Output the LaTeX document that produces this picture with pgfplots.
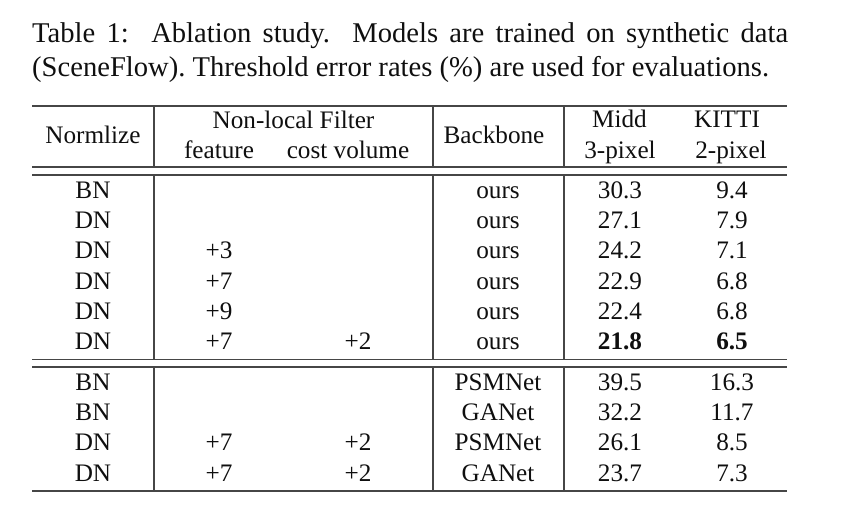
\documentclass[border=0pt]{standalone}
\usepackage{fontspec}
\setmainfont{Liberation Serif}
\usepackage{pgfplots}
\pgfplotsset{compat=1.18}
\definecolor{ink}{RGB}{15,15,15}
\definecolor{rule}{RGB}{70,70,70}
\newcommand{\capfont}{\fontsize{28.6}{34}\selectfont}
\newcommand{\tabfont}{\fontsize{25.2}{30}\selectfont}

\begin{document}
\begin{tikzpicture}
\begin{axis}[scale only axis, width=857pt, height=514pt,
  xmin=0, xmax=857, ymin=0, ymax=514, y dir=reverse,
  hide axis, clip=false,
  cell/.style={draw=none, mark=none, nodes near coords, point meta=explicit symbolic,
    nodes near coords style={anchor=base, inner sep=0pt, text=ink, font=\tabfont}}]

  % caption
  \node[anchor=base west, inner sep=0pt, text=ink, font=\capfont] at (axis cs:32,43)
    {\makebox[756pt][s]{Table 1:\ \ Ablation study.\ \ Models are trained on synthetic data}};
  \node[anchor=base west, inner sep=0pt, text=ink, font=\capfont] at (axis cs:32,77)
    {\frenchspacing (SceneFlow). Threshold error rates (\%) are used for evaluations.};

  % rules
  \draw[rule, line width=1.8pt] (axis cs:32,106) -- (axis cs:787,106);
  \draw[rule, line width=1.6pt] (axis cs:32,167) -- (axis cs:787,167);
  \draw[rule, line width=1.6pt] (axis cs:32,175) -- (axis cs:787,175);
  \draw[rule, line width=1.6pt] (axis cs:32,359.5) -- (axis cs:787,359.5);
  \draw[rule, line width=1.6pt] (axis cs:32,367) -- (axis cs:787,367);
  \draw[rule, line width=1.8pt] (axis cs:32,491) -- (axis cs:787,491);
  % vertical rules
  \draw[rule, line width=1.3pt] (axis cs:154,106) -- (axis cs:154,167);
  \draw[rule, line width=1.3pt] (axis cs:154,175) -- (axis cs:154,359.5);
  \draw[rule, line width=1.3pt] (axis cs:154,367) -- (axis cs:154,491);
  \draw[rule, line width=1.3pt] (axis cs:433,106) -- (axis cs:433,167);
  \draw[rule, line width=1.3pt] (axis cs:433,175) -- (axis cs:433,359.5);
  \draw[rule, line width=1.3pt] (axis cs:433,367) -- (axis cs:433,491);
  \draw[rule, line width=1.3pt] (axis cs:564,106) -- (axis cs:564,167);
  \draw[rule, line width=1.3pt] (axis cs:564,175) -- (axis cs:564,359.5);
  \draw[rule, line width=1.3pt] (axis cs:564,367) -- (axis cs:564,491);

  % header
  \addplot[cell] coordinates {
    (93,143.5) [Normlize]
    (293.5,128.3) [Non-local Filter]
    (219,158) [feature]
    (348,158) [cost volume]
    (494,143.5) [Backbone]
    (619.5,127.5) [Midd]
    (620,158) [3-pixel]
    (727,127.5) [KITTI]
    (731,158) [2-pixel]
  };

  % column: normalize
  \addplot[cell] coordinates {
    (93,198.3) [BN] (93,228.6) [DN] (93,258.9) [DN] (93,289.2) [DN] (93,319.5) [DN] (93,349.8) [DN]
    (93,390) [BN] (93,420.3) [BN] (93,450.6) [DN] (93,481) [DN]
  };
  % column: non-local filter, feature
  \addplot[cell] coordinates {
    (219,258.9) [+3] (219,289.2) [+7] (219,319.5) [+9] (219,349.8) [+7]
    (219,450.6) [+7] (219,481) [+7]
  };
  % column: non-local filter, cost volume
  \addplot[cell] coordinates {
    (358,349.8) [+2] (358,450.6) [+2] (358,481) [+2]
  };
  % column: backbone
  \addplot[cell] coordinates {
    (498,198.3) [ours] (498,228.6) [ours] (498,258.9) [ours] (498,289.2) [ours] (498,319.5) [ours] (498,349.8) [ours]
    (498,390) [PSMNet] (498,420.3) [GANet] (498,450.6) [PSMNet] (498,481) [GANet]
  };
  % column: Midd 3-pixel
  \addplot[cell] coordinates {
    (620,198.3) [30.3] (620,228.6) [27.1] (620,258.9) [24.2] (620,289.2) [22.9] (620,319.5) [22.4] (620,349.8) [\textbf{21.8}]
    (620,390) [39.5] (620,420.3) [32.2] (620,450.6) [26.1] (620,481) [23.7]
  };
  % column: KITTI 2-pixel
  \addplot[cell] coordinates {
    (732,198.3) [9.4] (732,228.6) [7.9] (732,258.9) [7.1] (732,289.2) [6.8] (732,319.5) [6.8] (732,349.8) [\textbf{6.5}]
    (732,390) [16.3] (732,420.3) [11.7] (732,450.6) [8.5] (732,481) [7.3]
  };
\end{axis}
\path (current axis.south west) rectangle (current axis.north east);
\end{tikzpicture}
\end{document}
